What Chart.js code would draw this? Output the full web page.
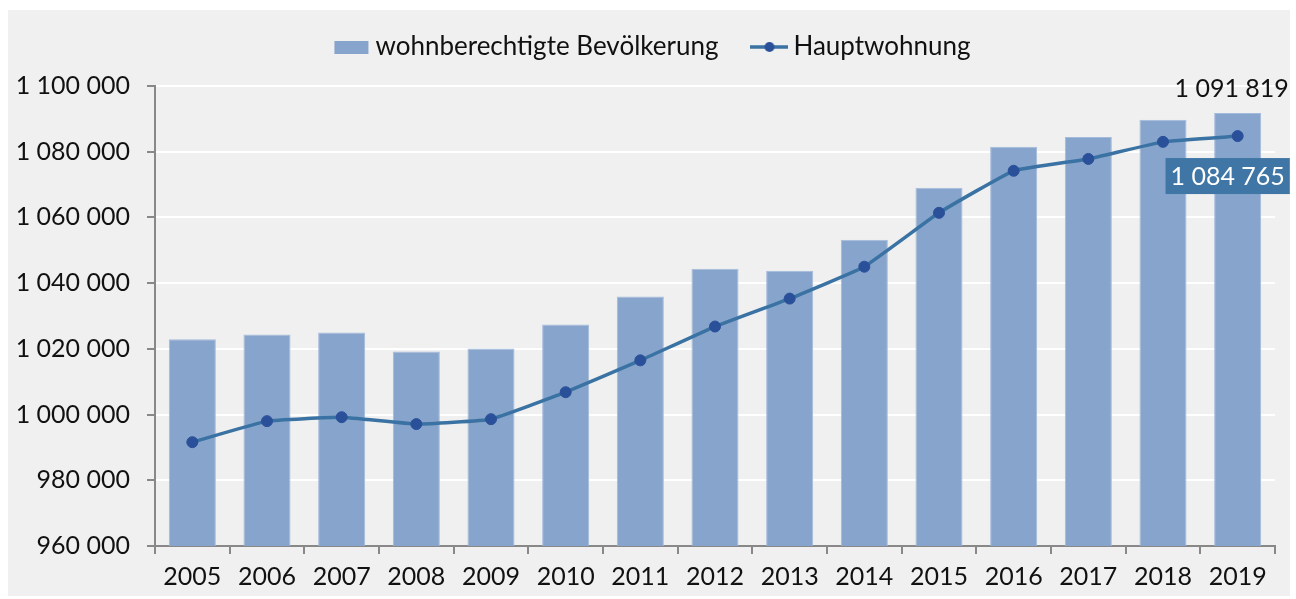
<!DOCTYPE html>
<html>
<head>
<meta charset="utf-8">
<script src="https://cdn.jsdelivr.net/npm/chart.js@4"></script>
<style>
    html, body { margin: 0; padding: 0; background: #fff; }
    .card { position: absolute; left: 8px; top: 10px; width: 1282px; height: 586px; background: #f0f0f0; }
    .wrap { position: absolute; left: 0; top: 0; width: 1296px; height: 599px; }
</style>
</head>
<body>
<div class="card"></div>
<div class="wrap"><canvas id="chart"></canvas></div>
<script>
const years = ['2005', '2006', '2007', '2008', '2009', '2010', '2011', '2012', '2013', '2014', '2015', '2016', '2017', '2018', '2019'];
const wohnberechtigt = [1022900, 1024400, 1025000, 1019200, 1020100, 1027400, 1035900, 1044400, 1043800, 1053200, 1069000, 1081500, 1084500, 1089700, 1091819];
const hauptwohnung = [991600, 998000, 999200, 997100, 998600, 1006800, 1016500, 1026800, 1035300, 1045000, 1061400, 1074200, 1077800, 1083000, 1084765];
const seriesNames = ['wohnberechtigte Bevölkerung', 'Hauptwohnung'];

const FONT = 'Lato, "Open Sans", sans-serif';
const BAR = '#87a5cc';
const LINE = '#3a73a3';
const DOT = '#2b509a';
const AXIS = '#888888';

const fmt = v => Math.round(v).toLocaleString('en-US').replace(/,/g, ' ');

// legend symbols
function legendIcon(kind) {
    const c = document.createElement('canvas');
    c.width = 38; c.height = 14;
    const ctx = c.getContext('2d');
    if (kind === 'bar') {
        ctx.fillStyle = BAR;
        ctx.fillRect(2, 1, 34, 13);
    } else {
        ctx.strokeStyle = LINE;
        ctx.lineWidth = 3.5;
        ctx.beginPath(); ctx.moveTo(0, 7); ctx.lineTo(38, 7); ctx.stroke();
        ctx.fillStyle = DOT;
        ctx.beginPath(); ctx.arc(19, 7, 5, 0, Math.PI * 2); ctx.fill();
    }
    return c;
}
const icons = [legendIcon('bar'), legendIcon('line')];

// taller legend box (plot starts lower) and legend nudged right
const legendSpace = {
    id: 'legendSpace',
    beforeInit(chart) {
        const orig = chart.legend.fit;
        chart.legend.fit = function () {
            orig.call(this);
            this.height += 16;
        };
    },
    afterLayout(chart) {
        chart.legend.left += 18;
        chart.legend.right += 18;
    }
};

const endLabels = {
    id: 'endLabels',
    afterDatasetsDraw(chart) {
        const ctx = chart.ctx;
        const n = years.length - 1;
        const bar = chart.getDatasetMeta(1).data[n];
        const pt = chart.getDatasetMeta(0).data[n];
        ctx.save();
        ctx.font = '25px ' + FONT;
        ctx.textAlign = 'center';
        ctx.textBaseline = 'middle';
        ctx.fillStyle = '#111';
        ctx.fillText(fmt(wohnberechtigt[n]), bar.x - 6, bar.y - 24);

        const txt = fmt(hauptwohnung[n]);
        const w = ctx.measureText(txt).width + 10;
        const cx = pt.x - 10, cy = pt.y + 40;
        ctx.fillStyle = '#3f76a5';
        ctx.fillRect(cx - w / 2, cy - 18, w, 36);
        ctx.fillStyle = '#fff';
        ctx.fillText(txt, cx, cy + 1);
        ctx.restore();
    }
};

new Chart(document.getElementById('chart'), {
    data: {
        labels: years,
        datasets: [
            {
                type: 'line',
                label: seriesNames[1],
                data: hauptwohnung,
                borderColor: LINE,
                borderWidth: 3.5,
                tension: 0.1,
                pointRadius: 5.5,
                pointBackgroundColor: DOT,
                pointBorderColor: DOT,
                pointBorderWidth: 1,
                order: 0
            },
            {
                type: 'bar',
                label: seriesNames[0],
                data: wohnberechtigt,
                backgroundColor: BAR,
                borderColor: '#a3badb',
                borderWidth: 1,
                categoryPercentage: 1,
                barPercentage: 0.63,
                order: 1
            }
        ]
    },
    options: {
        responsive: true,
        maintainAspectRatio: false,
        animation: false,
        layout: { padding: { top: -6, left: 0, right: 21, bottom: 0 } },
        plugins: {
            legend: {
                position: 'top',
                reverse: true,
                labels: {
                    color: '#111',
                    font: { family: FONT, size: 26 },
                    usePointStyle: true,
                    pointStyleWidth: 22,
                    boxHeight: 14,
                    padding: 40,
                    generateLabels(chart) {
                        const items = Chart.defaults.plugins.legend.labels.generateLabels(chart);
                        items.forEach(it => { it.pointStyle = icons[it.datasetIndex === 1 ? 0 : 1]; });
                        return items;
                    }
                }
            },
            tooltip: { enabled: false }
        },
        scales: {
            x: {
                offset: true,
                grid: { offset: true, drawOnChartArea: false, tickLength: 8, tickColor: AXIS, lineWidth: 2 },
                border: { color: AXIS, width: 2 },
                ticks: { color: '#111', font: { family: FONT, size: 25 }, padding: 8, maxRotation: 0 },
                afterFit(s) { s.height = 53; }
            },
            y: {
                min: 960000,
                max: 1100000,
                ticks: { stepSize: 20000, color: '#111', font: { family: FONT, size: 25 }, padding: 17, callback: v => fmt(v) },
                grid: { color: '#ffffff', lineWidth: 2, tickLength: 8, tickColor: AXIS },
                border: { color: AXIS, width: 2 },
                afterFit(s) { s.width = 155; }
            }
        }
    },
    plugins: [legendSpace, endLabels]
});
</script>
</body>
</html>
